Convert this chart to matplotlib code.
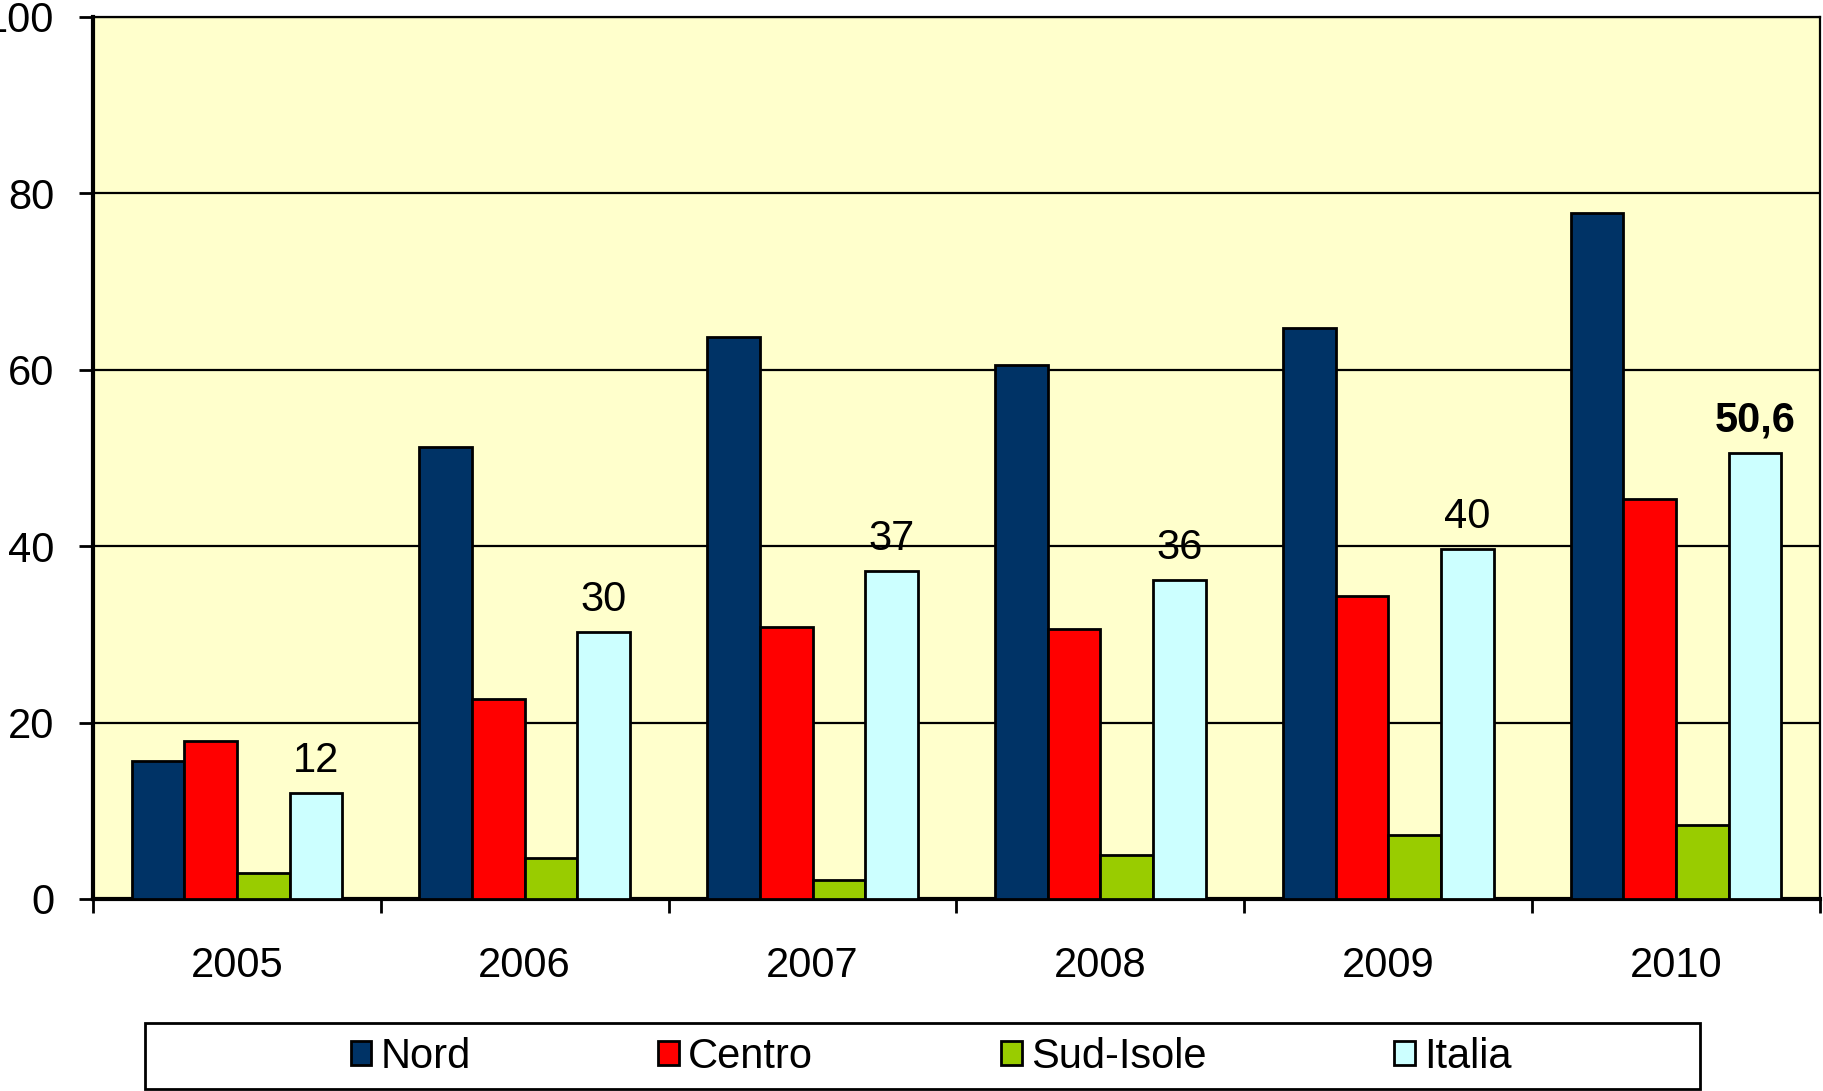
import matplotlib.pyplot as plt
import numpy as np
from matplotlib.patches import Rectangle

plt.rcParams["font.family"] = ["Liberation Sans", "DejaVu Sans"]

years = ["2005", "2006", "2007", "2008", "2009", "2010"]
series = ["Nord", "Centro", "Sud-Isole", "Italia"]
nord = [15.7, 51.3, 63.7, 60.5, 64.7, 77.8]
centro = [17.9, 22.7, 30.8, 30.6, 34.3, 45.3]
sud_isole = [3.0, 4.7, 2.2, 5.0, 7.2, 8.4]
italia = [12.0, 30.3, 37.2, 36.2, 39.7, 50.6]
italia_labels = ["12", "30", "37", "36", "40", "50,6"]
colors = ["#003366", "#FF0000", "#99CC00", "#CCFFFF"]

FS = 30
W, H = 1823, 1091
fig = plt.figure(figsize=(W / 100, H / 100), dpi=100)
ax = fig.add_axes([93 / W, 1 - 899 / H, (1820 - 93) / W, (899 - 17) / H])
ax.set_facecolor("#FFFFCC")

x = np.arange(len(years))
bw = 0.183
for i, (vals, name) in enumerate(zip([nord, centro, sud_isole, italia], series)):
    ax.bar(x + (i - 1.5) * bw, vals, bw, color=colors[i], edgecolor="black",
           linewidth=2.0, label=name, zorder=3)

# data labels over the Italia bars
for xi, v, lab in zip(x, italia, italia_labels):
    ax.annotate(lab, (xi + 1.5 * bw, v), xytext=(0, 15), textcoords="offset points",
                ha="center", va="baseline", fontsize=FS,
                fontweight="bold" if "," in lab else "normal", zorder=4)

ax.set_xlim(-0.5, 5.5)
ax.set_ylim(0, 100)
ax.set_yticks(range(0, 101, 20))
ax.yaxis.grid(True, color="black", linewidth=1.6, zorder=1)
ax.set_axisbelow(True)

ax.set_xticks(x)
ax.set_xticklabels(years)
ax.set_xticks(np.arange(-0.5, 6.0, 1.0), minor=True)
ax.tick_params(axis="x", which="major", length=0, pad=34, labelsize=FS)
ax.tick_params(axis="x", which="minor", length=10, width=2.0, direction="out")
ax.tick_params(axis="y", length=10, width=2.0, direction="out", pad=18, labelsize=FS)

for side in ["left", "bottom"]:
    ax.spines[side].set_linewidth(3.0)
ax.spines["top"].set_linewidth(1.6)
ax.spines["right"].set_linewidth(1.6)

# legend: frame drawn separately so it can be wider than its entries
fig.patches.append(Rectangle((145 / W, 2 / H), (1700 - 145) / W, (1091 - 1023 - 2) / H,
                             transform=fig.transFigure, fill=False,
                             edgecolor="black", linewidth=2.0))
fig.legend(loc="center", bbox_to_anchor=(931 / W, 1 - 1057 / H), ncol=4,
           frameon=False, fontsize=FS, handlelength=0.5, handleheight=0.5,
           handletextpad=0.22, columnspacing=4.5)

fig.savefig("out.png", dpi=100)
